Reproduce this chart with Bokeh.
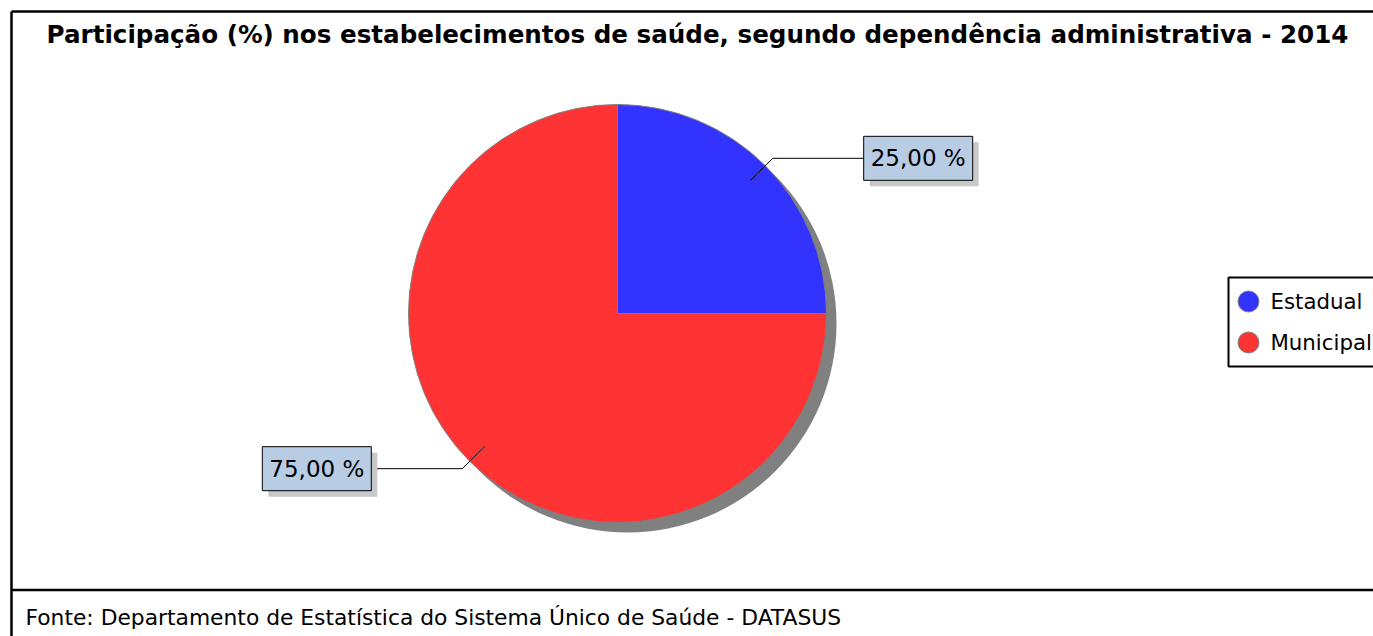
import math
from bokeh.plotting import figure
from bokeh.models import Range1d
from bokeh.core.properties import value
from bokeh.embed import file_html
from bokeh.resources import INLINE

title_text = "Participação (%) nos estabelecimentos de saúde, segundo dependência administrativa - 2014"
source_note = "Fonte: Departamento de Estatística do Sistema Único de Saúde - DATASUS"
categories = ["Estadual", "Municipal"]
values = [25.0, 75.0]
colors = ["#3333FF", "#FF3333"]

FONT = value("DejaVu Sans")
W, H = 1373, 636
p = figure(width=W, height=H, x_range=Range1d(0, W), y_range=Range1d(0, H),
           output_backend="svg", toolbar_location=None, min_border=0)
p.axis.visible = False
p.grid.visible = False
p.outline_line_color = None
p.background_fill_color = "white"
p.border_fill_color = "white"


def Y(img_y):
    return H - img_y


# outer frame and footer separator
p.segment(x0=[11, 11, 11], y0=[Y(11), Y(11), Y(589.5)],
          x1=[11, 1400, 1400], y1=[-10, Y(11), Y(589.5)],
          line_color="black", line_width=2.5)

# title and footer
p.text(x=[697], y=[Y(34)], text=[title_text], text_font=FONT, text_font_size="24.6px",
       text_font_style="bold", text_align="center", text_baseline="middle", text_color="black")
p.text(x=[25], y=[Y(617)], text=[source_note], text_font=FONT, text_font_size="21.8px",
       text_align="left", text_baseline="middle", text_color="black")

# pie
cx, cy, R = 617, Y(313), 209
p.circle(x=[cx + 10], y=[cy - 10], radius=R, fill_color="#808080", line_color=None)

total = sum(values)
cum = 0.0
starts, ends = [], []
for v in values:
    starts.append(math.pi / 2 - 2 * math.pi * (cum + v) / total)
    ends.append(math.pi / 2 - 2 * math.pi * cum / total)
    cum += v
p.wedge(x=[cx] * len(values), y=[cy] * len(values), radius=R, start_angle=starts,
        end_angle=ends, fill_color=colors, line_color="#808080", line_width=1)

# labels
bw, bh = 109, 44
for v, s, e in zip(values, starts, ends):
    mid = (s + e) / 2
    c, sn = math.cos(mid), math.sin(mid)
    x0, y0 = cx + 0.9 * R * c, cy + 0.9 * R * sn
    x1, y1 = cx + 1.05 * R * c, cy + 1.05 * R * sn
    side = 1 if c >= 0 else -1
    x2 = x1 + side * 91
    p.line(x=[x0, x1, x2], y=[y0, y1, y1], line_color="black", line_width=1)
    left = x2 if side > 0 else x2 - bw
    right = left + bw
    p.quad(left=[left + 6], right=[right + 6], top=[y1 + bh / 2 - 6], bottom=[y1 - bh / 2 - 6],
           fill_color="#C8C8C8", line_color=None)
    p.quad(left=[left], right=[right], top=[y1 + bh / 2], bottom=[y1 - bh / 2],
           fill_color="#B8CCE4", line_color="black", line_width=1)
    lbl = f"{v:.2f}".replace(".", ",") + " %"
    p.text(x=[(left + right) / 2], y=[y1], text=[lbl], text_font=FONT, text_font_size="23px",
           text_align="center", text_baseline="middle", text_color="black")

# legend
p.quad(left=[1228], right=[1400], top=[Y(277)], bottom=[Y(366)],
       fill_color="white", line_color="black", line_width=2)
leg_y = [Y(301), Y(342)]
p.circle(x=[1248] * len(categories), y=leg_y, radius=10.5, fill_color=colors,
         line_color="#808080", line_width=1)
p.text(x=[1270] * len(categories), y=leg_y, text=categories, text_font=FONT,
       text_font_size="21.3px", text_align="left", text_baseline="middle", text_color="black")

open("out.html", "w").write(file_html(p, INLINE))
